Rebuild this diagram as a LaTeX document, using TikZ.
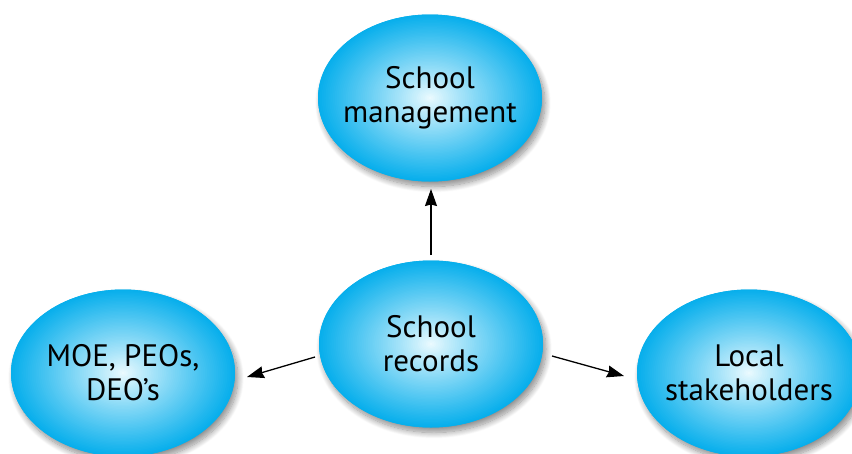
\documentclass[tikz,border=0pt]{standalone}
\usepackage{fontspec}
\setmainfont{PT Sans}
\usetikzlibrary{shapes.geometric,arrows.meta,shadows.blur}
\definecolor{ellin}{RGB}{240,252,255}
\definecolor{ellout}{RGB}{8,175,236}
\tikzset{
  shadowbase/.style={ellipse, minimum width=224pt, minimum height=167pt, inner sep=0pt,
    fill=ellout,
    blur shadow={shadow xshift=3pt, shadow yshift=-5pt, shadow blur steps=12, shadow blur radius=6pt, shadow opacity=45}},
  bubble/.style={ellipse, minimum width=224pt, minimum height=167pt, inner sep=0pt,
    align=center, font=\fontsize{31}{34}\selectfont},
  link/.style={draw=black, line width=1.3pt, -{Stealth[length=17pt,width=12pt,inset=1.5pt]}}
}
\newcommand\gradfill[1]{%
  \foreach \k in {0,...,59}{%
    \pgfmathsetmacro\rr{1-\k/60}%
    \pgfmathsetmacro\tt{100*(\rr^0.9)}%
    \fill[ellout!\tt!ellin] (#1) ellipse [x radius=112*\rr, y radius=83.5*\rr];
  }%
}
\begin{document}
\begin{tikzpicture}[x=1pt,y=1pt]
\useasboundingbox (0,-453) rectangle (852,0);
\node[shadowbase] (mgmtS) at (430,-98) {};
\node[shadowbase] (recS) at (431,-344) {};
\node[shadowbase] (moeS) at (123,-373) {};
\node[shadowbase] (locS) at (749,-373) {};
\gradfill{mgmtS}
\gradfill{recS}
\gradfill{moeS}
\gradfill{locS}
\node[bubble] (mgmt) at (mgmtS) {School\\management};
\node[bubble] (rec) at (recS) {School\\records};
\node[bubble] (moe) at (moeS) {MOE, PEOs,\\DEO’s};
\node[bubble] (loc) at (locS) {Local\\stakeholders};
\coordinate (upS) at (431,-255);
\coordinate (upE) at (431,-189);
\coordinate (lS) at (315,-357);
\coordinate (lE) at (247,-377);
\coordinate (rS) at (552,-356);
\coordinate (rE) at (624,-376);
\draw[link] (upS) -- (upE);
\draw[link] (lS) -- (lE);
\draw[link] (rS) -- (rE);
\end{tikzpicture}
\end{document}
